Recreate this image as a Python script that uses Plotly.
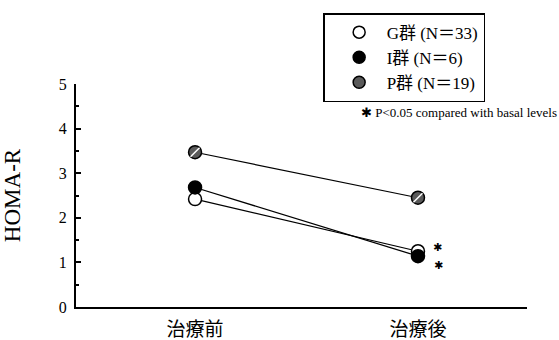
import plotly.graph_objects as go

categories = ["治療前", "治療後"]
groups = ["G群 (N＝33)", "I群 (N＝6)", "P群 (N＝19)"]
g_values = [2.42, 1.25]
i_values = [2.68, 1.14]
p_values = [3.47, 2.45]
sig_after = ["✱", "✱"]

serif = "Liberation Serif, Times New Roman, Noto Sans CJK JP, serif"

fig = go.Figure()
xs = [0, 1]
styles = [
    (g_values, dict(color="white", line=dict(color="black", width=1.5))),
    (i_values, dict(color="black", line=dict(color="black", width=1.5))),
    (p_values, dict(color="#5a5a5a", line=dict(color="black", width=1.5))),
]
for name, (vals, mk) in zip(groups, styles):
    fig.add_trace(go.Scatter(x=xs, y=vals, mode="lines+markers", showlegend=False,
                             line=dict(color="black", width=1.2),
                             marker=dict(size=13, symbol="circle", **mk)))
# hatch hint on P markers
fig.add_trace(go.Scatter(x=xs, y=p_values, mode="markers", showlegend=False,
                         marker=dict(size=9, symbol="line-ne", line=dict(color="white", width=1.5))))
# legend entries
for name, (vals, mk) in zip(groups, styles):
    fig.add_trace(go.Scatter(x=[None], y=[None], mode="markers", name=name,
                             marker=dict(size=12, symbol="circle", **mk)))

# significance asterisks
fig.add_annotation(x=1, y=g_values[1], text=sig_after[0], showarrow=False, xshift=20, yshift=4,
                   font=dict(family="DejaVu Sans", size=11, color="black"))
fig.add_annotation(x=1, y=i_values[1], text=sig_after[1], showarrow=False, xshift=21, yshift=-9,
                   font=dict(family="DejaVu Sans", size=11, color="black"))

fig.add_annotation(xref="paper", yref="paper", x=1.071, y=0.874, xanchor="right", yanchor="middle",
                   text="✱ P<0.05 compared with basal levels", showarrow=False,
                   font=dict(family=serif, size=13, color="black"))

fig.update_layout(
    width=559, height=340,
    margin=dict(l=76, r=32, t=84, b=33, autoexpand=False),
    plot_bgcolor="white", paper_bgcolor="white",
    font=dict(family=serif, color="black", size=16),
    legend=dict(x=0.548, y=1.318, xanchor="left", yanchor="top",
                bordercolor="black", borderwidth=1.5, bgcolor="white",
                font=dict(family=serif, size=17), itemwidth=45, indentation=7,
                tracegroupgap=0),
    xaxis=dict(range=[-0.534, 1.489], tickvals=xs, ticktext=categories,
               showline=True, linecolor="black", linewidth=2, ticks="",
               showgrid=False, zeroline=False, automargin=False,
               ticklabelstandoff=4,
               tickfont=dict(family="Noto Sans CJK JP", size=19)),
    yaxis=dict(range=[0, 5], tickvals=[0, 1, 2, 3, 4, 5], showline=True,
               linecolor="black", linewidth=2, ticks="inside", ticklen=5,
               tickwidth=1.5, tickcolor="black", automargin=False,
               minor=dict(dtick=0.5, ticks="inside", ticklen=3, tickcolor="black"),
               showgrid=False, zeroline=False,
               title=dict(text="HOMA-R", font=dict(family=serif, size=23), standoff=38),
               ticklabelstandoff=4,
               tickfont=dict(family=serif, size=16)),
)
fig.write_html("out.html", config={"displayModeBar": False},
               post_script="document.body.style.margin='0px';")
